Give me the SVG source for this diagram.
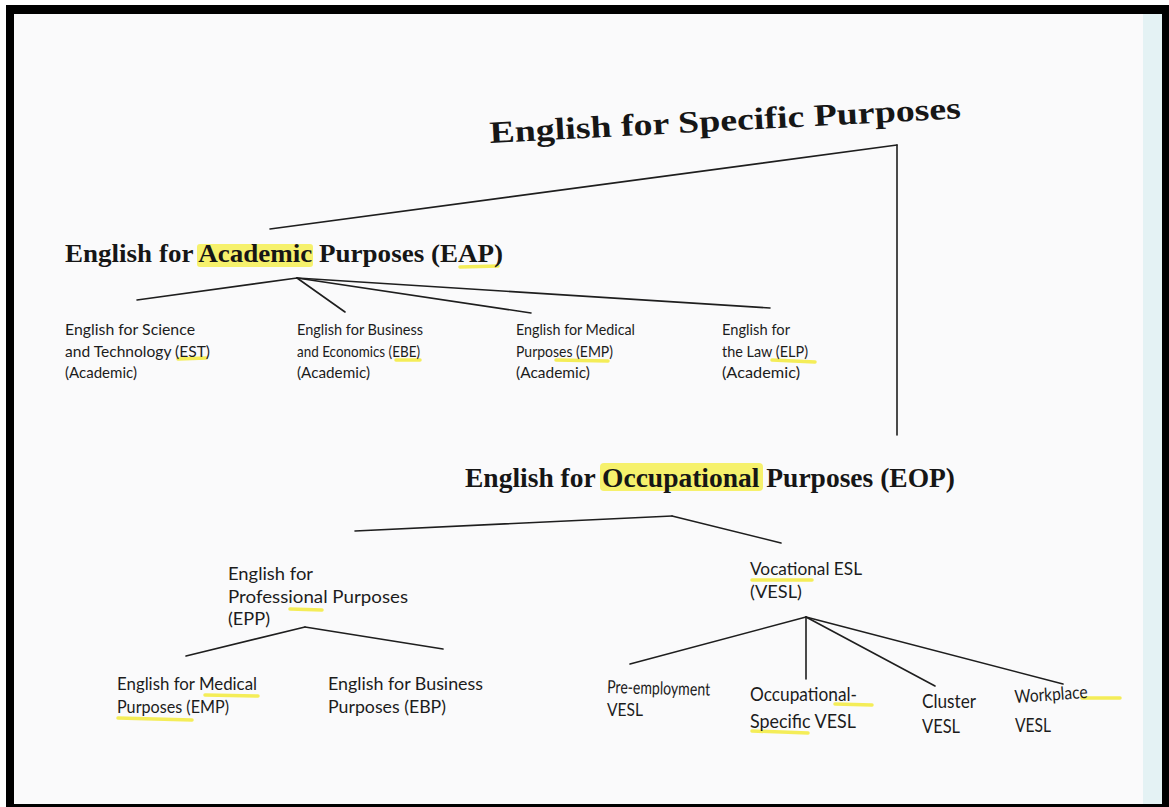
<svg xmlns="http://www.w3.org/2000/svg" width="1169" height="807" viewBox="0 0 1169 807">
<defs>
<style>
.serif{font-family:"Liberation Serif","Times New Roman",serif;font-weight:bold;fill:#161616}
.sans{font-family:Lato,"Open Sans","Liberation Sans",sans-serif;fill:#1c1c1c}
.s16{font-size:16px}
.s18{font-size:18px}
.s19{font-size:19px}
.conn line{stroke:#1e1e1e;stroke-width:1.6;stroke-linecap:round}
.hl{fill:#f4ee3c;opacity:0.75}
.ul{stroke:#f2ea30;stroke-width:3.5;stroke-linecap:round;opacity:0.8;fill:none}
</style>
</defs>
<rect x="0" y="0" width="1169" height="807" fill="#ffffff"/>
<rect x="14" y="14" width="1148" height="790" fill="#fafafb"/>
<rect x="1143" y="14" width="19" height="790" fill="#e4f2f4"/>
<!-- frame -->
<rect x="6" y="5" width="1163" height="9" fill="#000"/>
<rect x="6" y="5" width="8" height="802" fill="#000"/>
<rect x="1162" y="5" width="7" height="802" fill="#000"/>
<rect x="6" y="804" width="1163" height="3" fill="#000"/>

<g id="connectors" class="conn">
<line x1="897" y1="145" x2="270" y2="229"/>
<line x1="897" y1="145" x2="897" y2="435"/>
<line x1="297" y1="278" x2="137" y2="300"/>
<line x1="297" y1="278" x2="345" y2="312"/>
<line x1="297" y1="278" x2="531" y2="313"/>
<line x1="297" y1="278" x2="770" y2="308"/>
<line x1="672" y1="516" x2="355" y2="531"/>
<line x1="672" y1="516" x2="781" y2="543"/>
<line x1="305" y1="627" x2="186" y2="656"/>
<line x1="305" y1="627" x2="443" y2="649"/>
<line x1="806" y1="617" x2="630" y2="664"/>
<line x1="806" y1="617" x2="806" y2="679"/>
<line x1="806" y1="617" x2="935" y2="686"/>
<line x1="806" y1="617" x2="1063" y2="684"/>
</g>

<g id="esp">
<text class="serif" x="490" y="143" font-size="31" textLength="472" lengthAdjust="spacingAndGlyphs" transform="rotate(-3 490 143)">English for Specific Purposes</text>
</g>

<g id="eap">
<rect class="hl" x="197" y="244" width="116" height="23" rx="3"/>
<path class="ul" d="M460 267 L498 266"/>
<text class="serif" x="65" y="262" font-size="25" textLength="438" lengthAdjust="spacingAndGlyphs">English for Academic Purposes (EAP)</text>
</g>

<g id="est">
<path class="ul" d="M178 359 L206 358"/>
<text class="sans s16" x="65" y="335" textLength="130" lengthAdjust="spacingAndGlyphs">English for Science</text>
<text class="sans s16" x="65" y="357" textLength="145" lengthAdjust="spacingAndGlyphs">and Technology (EST)</text>
<text class="sans s16" x="65" y="378" textLength="72" lengthAdjust="spacingAndGlyphs">(Academic)</text>
</g>

<g id="ebe">
<path class="ul" d="M396 360 L420 360"/>
<text class="sans s16" x="297" y="335" textLength="126" lengthAdjust="spacingAndGlyphs">English for Business</text>
<text class="sans s16" x="297" y="357" textLength="123" lengthAdjust="spacingAndGlyphs">and Economics (EBE)</text>
<text class="sans s16" x="297" y="378" textLength="73" lengthAdjust="spacingAndGlyphs">(Academic)</text>
</g>

<g id="emp-academic">
<path class="ul" d="M556 360 L608 361"/>
<text class="sans s16" x="516" y="335" textLength="119" lengthAdjust="spacingAndGlyphs">English for Medical</text>
<text class="sans s16" x="516" y="357" textLength="97" lengthAdjust="spacingAndGlyphs">Purposes (EMP)</text>
<text class="sans s16" x="516" y="378" textLength="74" lengthAdjust="spacingAndGlyphs">(Academic)</text>
</g>

<g id="elp">
<path class="ul" d="M772 360 L815 362"/>
<text class="sans s16" x="722" y="335" textLength="68" lengthAdjust="spacingAndGlyphs">English for</text>
<text class="sans s16" x="722" y="357" textLength="86" lengthAdjust="spacingAndGlyphs">the Law (ELP)</text>
<text class="sans s16" x="722" y="378" textLength="78" lengthAdjust="spacingAndGlyphs">(Academic)</text>
</g>

<g id="eop">
<rect class="hl" x="600" y="463" width="163" height="28" rx="4"/>
<text class="serif" x="465" y="487" font-size="28" textLength="490" lengthAdjust="spacingAndGlyphs">English for Occupational Purposes (EOP)</text>
</g>

<g id="epp">
<path class="ul" d="M290 609 L322 610"/>
<text class="sans s18" x="228" y="580" textLength="85" lengthAdjust="spacingAndGlyphs">English for</text>
<text class="sans s18" x="228" y="603" textLength="180" lengthAdjust="spacingAndGlyphs">Professional Purposes</text>
<text class="sans s18" x="228" y="625" textLength="42" lengthAdjust="spacingAndGlyphs">(EPP)</text>
</g>

<g id="emp">
<path class="ul" d="M205 695 L258 696"/>
<path class="ul" d="M118 718 L192 720"/>
<text class="sans s18" x="117" y="690" textLength="140" lengthAdjust="spacingAndGlyphs">English for Medical</text>
<text class="sans s18" x="117" y="713" textLength="112" lengthAdjust="spacingAndGlyphs">Purposes (EMP)</text>
</g>

<g id="ebp">
<text class="sans s18" x="328" y="690" textLength="155" lengthAdjust="spacingAndGlyphs">English for Business</text>
<text class="sans s18" x="328" y="713" textLength="118" lengthAdjust="spacingAndGlyphs">Purposes (EBP)</text>
</g>

<g id="vesl">
<path class="ul" d="M752 580 L812 580" opacity="0.5"/>
<text class="sans s18" x="750" y="575" textLength="112" lengthAdjust="spacingAndGlyphs">Vocational ESL</text>
<text class="sans s18" x="750" y="598" textLength="52" lengthAdjust="spacingAndGlyphs">(VESL)</text>
</g>

<g id="pre-employment">
<text class="sans s18" x="607" y="693" textLength="103" lengthAdjust="spacingAndGlyphs" transform="rotate(1.5 607 693)">Pre-employment</text>
<text class="sans s18" x="607" y="716" textLength="36" lengthAdjust="spacingAndGlyphs">VESL</text>
</g>

<g id="occupational-specific">
<path class="ul" d="M835 704 L872 705"/>
<path class="ul" d="M752 731 L808 733"/>
<text class="sans s19" x="750" y="701" textLength="107" lengthAdjust="spacingAndGlyphs">Occupational-</text>
<text class="sans s19" x="750" y="728" textLength="106" lengthAdjust="spacingAndGlyphs">Specific VESL</text>
</g>

<g id="cluster">
<text class="sans s19" x="922" y="708" textLength="54" lengthAdjust="spacingAndGlyphs">Cluster</text>
<text class="sans s19" x="922" y="733" textLength="38" lengthAdjust="spacingAndGlyphs">VESL</text>
</g>

<g id="workplace">
<path class="ul" d="M1082 698 L1120 698"/>
<text class="sans s18" x="1015" y="703" textLength="73" lengthAdjust="spacingAndGlyphs" transform="rotate(-4 1015 703)">Workplace</text>
<text class="sans s19" x="1015" y="732" textLength="36" lengthAdjust="spacingAndGlyphs">VESL</text>
</g>
</svg>
